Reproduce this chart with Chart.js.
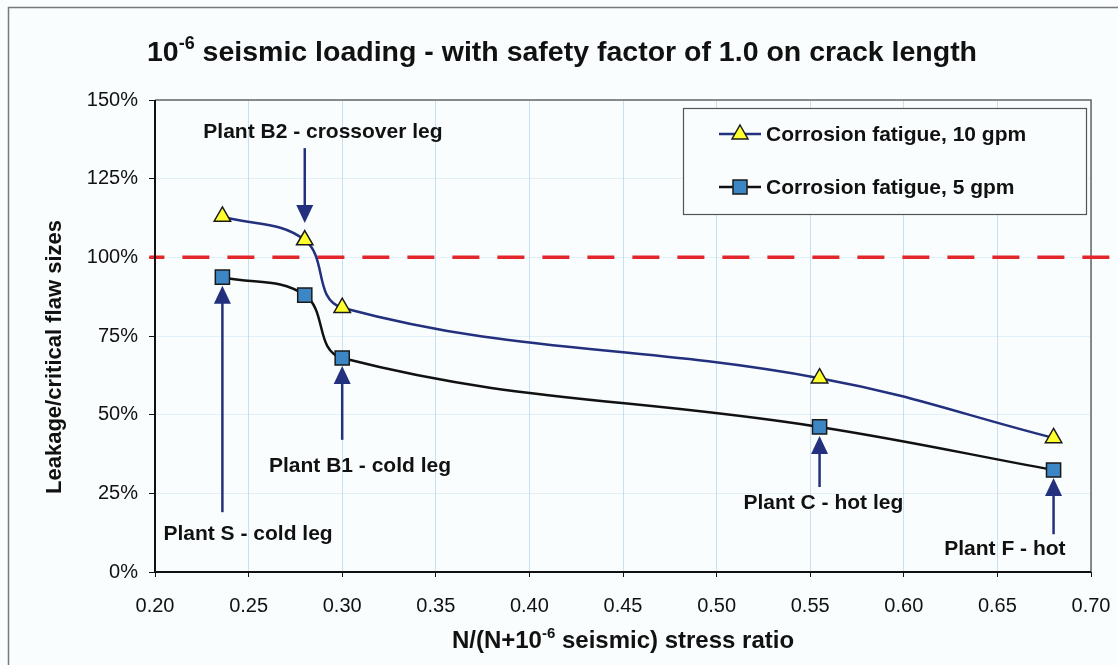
<!DOCTYPE html>
<html>
<head>
<meta charset="utf-8">
<script src="https://cdn.jsdelivr.net/npm/chart.js@4/dist/chart.umd.min.js"></script>
<style>
  html, body { margin: 0; padding: 0; background: #fafdfd; }
</style>
</head>
<body>
<canvas id="chart" width="1118" height="665"></canvas>
<script>
// stress ratio N/(N+1e-6 seismic) for each plant
var stressRatio = [0.236, 0.28, 0.30, 0.555, 0.68];
var plantNames = ["Plant S - cold leg", "Plant B2 - crossover leg", "Plant B1 - cold leg", "Plant C - hot leg", "Plant F - hot"];
// leakage / critical flaw size, percent
var cf10gpm = [113, 105.5, 84, 61.6, 42.6];
var cf5gpm = [93.7, 88, 68, 46.1, 32.4];
var seriesLabels = ["Corrosion fatigue, 10 gpm", "Corrosion fatigue, 5 gpm"];
var criticalLevel = 100;

var FONT = "'Liberation Sans', Arial, sans-serif";
var NAVY = "#22307e";
var INK = "#111111";

// arrow annotations, in data units: tip/tail y and label centre
var notes = [
  { plant: 0, dir: "up", tip: 91, tail: 19, lx: 0.2497, ly: 12.1 },
  { plant: 1, dir: "down", tip: 110.9, tail: 134.7, lx: 0.2897, ly: 139.8 },
  { plant: 2, dir: "up", tip: 65.5, tail: 42, lx: 0.3095, ly: 33.7 },
  { plant: 3, dir: "up", tip: 43.2, tail: 27, lx: 0.557, ly: 21.9 },
  { plant: 4, dir: "up", tip: 29.9, tail: 12, lx: 0.654, ly: 7.3 },
];

function pointsOf(ys) {
  return stressRatio.map(function (x, i) {
    return { x: x, y: ys[i] };
  });
}

function drawRich(ctx, parts, cx, baseline, size) {
  var total = 0;
  parts.forEach(function (p) {
    ctx.font = "bold " + (p.sup ? Math.round(size * 0.62) : size) + "px " + FONT;
    p.w = ctx.measureText(p.t).width;
    total += p.w;
  });
  var x = cx - total / 2;
  ctx.textAlign = "left";
  ctx.textBaseline = "alphabetic";
  parts.forEach(function (p) {
    ctx.font = "bold " + (p.sup ? Math.round(size * 0.62) : size) + "px " + FONT;
    ctx.fillText(p.t, x, p.sup ? baseline - size * 0.42 : baseline);
    x += p.w;
  });
}

function drawMarker(ctx, style, x, y) {
  ctx.save();
  ctx.lineWidth = 1.5;
  ctx.strokeStyle = "#1a1a1a";
  ctx.beginPath();
  if (style === "triangle") {
    ctx.fillStyle = "#ffff2e";
    ctx.moveTo(x, y - 9);
    ctx.lineTo(x + 8, y + 5);
    ctx.lineTo(x - 8, y + 5);
    ctx.closePath();
  } else {
    ctx.fillStyle = "#3d86c6";
    ctx.rect(x - 7, y - 7, 14, 14);
  }
  ctx.fill();
  ctx.stroke();
  ctx.restore();
}

var framePlugin = {
  id: "frame",
  beforeDraw: function (chart) {
    var ctx = chart.ctx;
    ctx.save();
    ctx.fillStyle = "#fafdfd";
    ctx.fillRect(0, 0, chart.width, chart.height);
    ctx.strokeStyle = "#7a7a7a";
    ctx.lineWidth = 1.5;
    ctx.strokeRect(8.5, 7.5, chart.width + 20, chart.height + 20);
    ctx.restore();
  },
  beforeDatasetsDraw: function (chart) {
    var ctx = chart.ctx;
    var a = chart.chartArea;
    var xs = chart.scales.x;
    var y = chart.scales.y.getPixelForValue(criticalLevel);
    ctx.save();
    ctx.strokeStyle = "#666";
    ctx.lineWidth = 1.5;
    ctx.beginPath();
    ctx.moveTo(a.left, a.top);
    ctx.lineTo(a.right, a.top);
    ctx.lineTo(a.right, a.bottom);
    ctx.stroke();
    // red critical line, spills slightly past the plot as in the source
    ctx.strokeStyle = "#e3262b";
    ctx.lineWidth = 3.5;
    ctx.setLineDash([27, 18]);
    ctx.lineDashOffset = 12;
    ctx.beginPath();
    ctx.moveTo(xs.getPixelForValue(0.197), y);
    ctx.lineTo(xs.getPixelForValue(0.712), y);
    ctx.stroke();
    ctx.restore();
  },
  afterDatasetsDraw: function (chart) {
    var ctx = chart.ctx;
    var a = chart.chartArea;
    var xs = chart.scales.x;
    var ys = chart.scales.y;
    ctx.save();

    // arrows and plant labels
    notes.forEach(function (n) {
      var px = xs.getPixelForValue(stressRatio[n.plant]);
      var tip = ys.getPixelForValue(n.tip);
      var tail = ys.getPixelForValue(n.tail);
      var sgn = n.dir === "up" ? 1 : -1;
      ctx.strokeStyle = NAVY;
      ctx.fillStyle = NAVY;
      ctx.lineWidth = 2.5;
      ctx.beginPath();
      ctx.moveTo(px, tail);
      ctx.lineTo(px, tip + sgn * 14);
      ctx.stroke();
      ctx.beginPath();
      ctx.moveTo(px, tip);
      ctx.lineTo(px + 8.5, tip + sgn * 18);
      ctx.lineTo(px - 8.5, tip + sgn * 18);
      ctx.closePath();
      ctx.fill();
      ctx.fillStyle = INK;
      ctx.font = "bold 21px " + FONT;
      ctx.textAlign = "center";
      ctx.textBaseline = "middle";
      ctx.fillText(plantNames[n.plant], xs.getPixelForValue(n.lx), ys.getPixelForValue(n.ly));
    });

    // legend box inside the plot
    var bx = a.right - 408, by = a.top + 8, bw = 403, bh = 106;
    ctx.fillStyle = "#fafdfd";
    ctx.fillRect(bx, by, bw, bh);
    ctx.strokeStyle = "#555";
    ctx.lineWidth = 1.2;
    ctx.strokeRect(bx + 0.5, by + 0.5, bw, bh);
    var rows = [
      { label: seriesLabels[0], color: NAVY, style: "triangle", y: by + 26 },
      { label: seriesLabels[1], color: INK, style: "rect", y: by + 79 },
    ];
    rows.forEach(function (r) {
      ctx.strokeStyle = r.color;
      ctx.lineWidth = 2.5;
      ctx.beginPath();
      ctx.moveTo(bx + 36, r.y);
      ctx.lineTo(bx + 78, r.y);
      ctx.stroke();
      drawMarker(ctx, r.style, bx + 57, r.y);
      ctx.fillStyle = INK;
      ctx.font = "bold 21px " + FONT;
      ctx.textAlign = "left";
      ctx.textBaseline = "middle";
      ctx.fillText(r.label, bx + 83, r.y + 1);
    });

    // axes drawn on top
    ctx.strokeStyle = INK;
    ctx.lineWidth = 2;
    ctx.beginPath();
    ctx.moveTo(a.left, a.top);
    ctx.lineTo(a.left, a.bottom);
    ctx.lineTo(a.right, a.bottom);
    ctx.stroke();
    ctx.restore();
  },
  afterDraw: function (chart) {
    var ctx = chart.ctx;
    var a = chart.chartArea;
    ctx.save();
    ctx.fillStyle = INK;
    drawRich(ctx, [
      { t: "10" },
      { t: "-6", sup: true },
      { t: " seismic loading - with safety factor of 1.0 on crack length" },
    ], (a.left + a.right) / 2 - 61, 61, 28.5);
    drawRich(ctx, [
      { t: "N/(N+10" },
      { t: "-6", sup: true },
      { t: " seismic) stress ratio" },
    ], (a.left + a.right) / 2, 648, 24);
    ctx.translate(55, 357);
    ctx.rotate(-Math.PI / 2);
    ctx.font = "bold 22px " + FONT;
    ctx.textAlign = "center";
    ctx.textBaseline = "middle";
    ctx.fillText("Leakage/critical flaw sizes", 0, 0);
    ctx.restore();
  },
};

new Chart(document.getElementById("chart").getContext("2d"), {
  type: "line",
  data: {
    datasets: [
      {
        label: seriesLabels[0],
        data: pointsOf(cf10gpm),
        borderColor: NAVY,
        borderWidth: 2.5,
        tension: 0.4,
        pointStyle: "triangle",
        pointRadius: 9.5,
        pointBackgroundColor: "#ffff2e",
        pointBorderColor: "#1a1a1a",
        pointBorderWidth: 1.5,
      },
      {
        label: seriesLabels[1],
        data: pointsOf(cf5gpm),
        borderColor: INK,
        borderWidth: 2.5,
        tension: 0.4,
        pointStyle: "rect",
        pointRadius: 10,
        pointBackgroundColor: "#3d86c6",
        pointBorderColor: "#1a1a1a",
        pointBorderWidth: 1.5,
      },
    ],
  },
  options: {
    responsive: false,
    animation: false,
    layout: { padding: { left: 0, top: 100, right: 27, bottom: 0 } },
    plugins: {
      legend: { display: false },
      tooltip: { enabled: false },
    },
    scales: {
      x: {
        type: "linear",
        min: 0.2,
        max: 0.7,
        afterFit: function (scale) {
          scale.height = 93;
          scale.paddingLeft = 0;
          scale.paddingRight = 0;
        },
        ticks: {
          stepSize: 0.05,
          color: INK,
          padding: 17,
          font: { family: FONT, size: 20 },
          callback: function (v) { return v.toFixed(2); },
        },
        grid: { color: "rgba(150,195,230,0.5)", lineWidth: 1, tickColor: INK, tickLength: 5 },
        border: { display: false },
      },
      y: {
        min: 0,
        max: 150,
        afterFit: function (scale) { scale.width = 155; },
        ticks: {
          stepSize: 25,
          color: INK,
          padding: 11,
          font: { family: FONT, size: 20 },
          callback: function (v) { return v + "%"; },
        },
        grid: { color: "rgba(190,220,240,0.4)", lineWidth: 1, tickColor: INK, tickLength: 6 },
        border: { display: false },
      },
    },
  },
  plugins: [framePlugin],
});
</script>
</body>
</html>
